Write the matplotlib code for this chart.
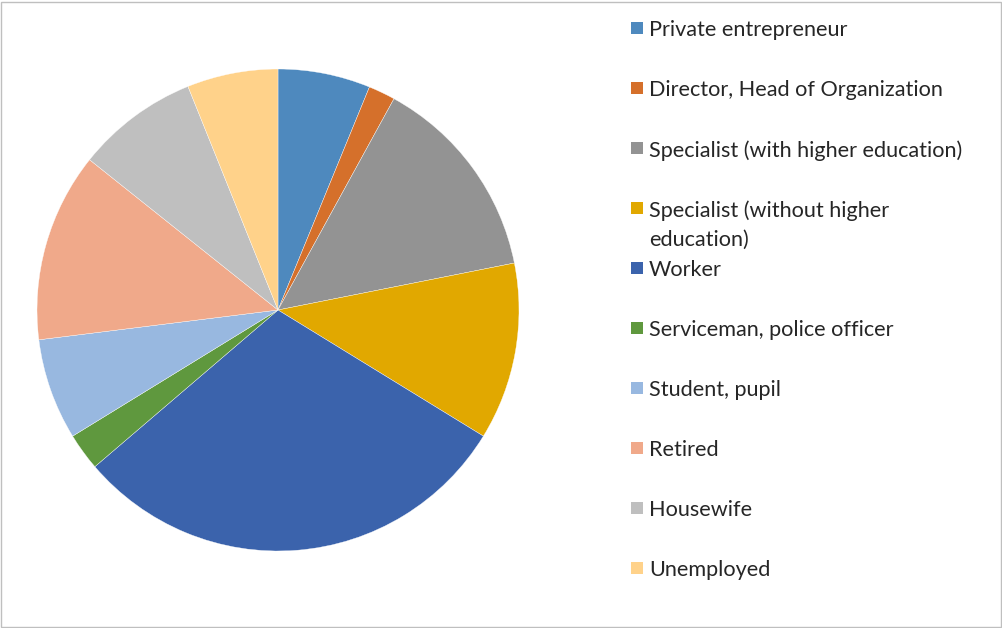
import matplotlib

matplotlib.use("Agg")

import matplotlib.pyplot as plt  # noqa: E402
from matplotlib.patches import Rectangle  # noqa: E402

# Occupation shares (percent), clockwise from 12 o'clock
labels = [
    "Private entrepreneur",
    "Director, Head of Organization",
    "Specialist (with higher education)",
    "Specialist (without higher\neducation)",
    "Worker",
    "Serviceman, police officer",
    "Student, pupil",
    "Retired",
    "Housewife",
    "Unemployed",
]
shares = [6.2, 1.8, 13.9, 11.9, 30.0, 2.5, 6.8, 12.7, 8.2, 6.1]
colors = [
    "#4E89BE", "#D5702B", "#939393", "#E1A800", "#3B63AC",
    "#5F983E", "#98B8E0", "#F0A98A", "#BFBFBF", "#FFD28A",
]

W, H = 1003, 628
fig = plt.figure(figsize=(W / 100, H / 100), dpi=100)
plt.rcParams["font.family"] = ["Lato", "DejaVu Sans"]

# pie occupies a square of 482 px centred at (278, 310)
cx, cy, r = 278, 310, 241
ax = fig.add_axes([(cx - r) / W, (H - cy - r) / H, 2 * r / W, 2 * r / H])
ax.pie(shares, colors=colors, startangle=90, counterclock=False,
       wedgeprops=dict(edgecolor="white", linewidth=0.25))
ax.set_xlim(-1, 1)
ax.set_ylim(-1, 1)
ax.set_aspect("equal")

# legend, one entry every 60 px
for i, (lab, col) in enumerate(zip(labels, colors)):
    y = 28 + 60 * i
    fig.patches.append(Rectangle((631 / W, (H - y - 6) / H), 12 / W, 12 / H,
                                 transform=fig.transFigure, facecolor=col,
                                 edgecolor="none"))
    fig.text(649 / W, (H - y + 8) / H, lab, fontsize=15.6, color="#262626",
             va="top", ha="left", linespacing=1.6)

# thin outer frame
fig.patches.append(Rectangle((1 / W, 1 / H), (W - 3) / W, (H - 3) / H,
                             transform=fig.transFigure, facecolor="none",
                             edgecolor="#BFBFBF", linewidth=1))

fig.savefig("out.png", dpi=100)
